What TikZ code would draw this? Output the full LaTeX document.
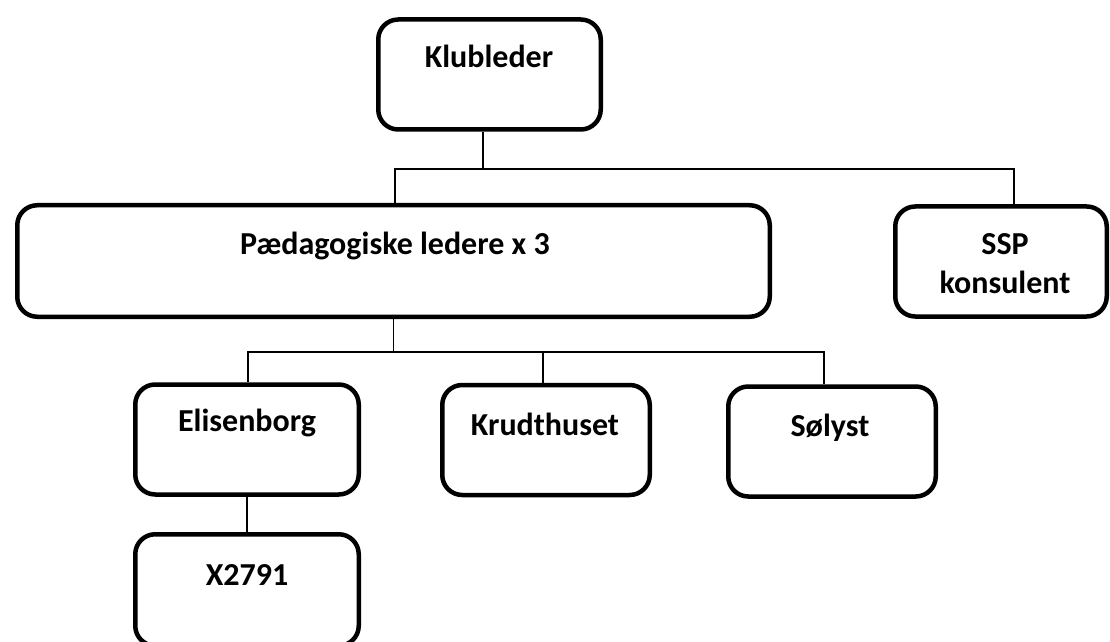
\documentclass[tikz,border=0pt]{standalone}
\usepackage{fontspec}
\setmainfont{Carlito}
\begin{document}
\begin{tikzpicture}[x=0.5pt,y=-0.5pt,
  box/.style={draw,line width=2.25pt,rounded corners=10pt,minimum height=55pt,inner sep=0pt},
  txt/.style={font=\fontsize{16pt}{19.5pt}\selectfont\bfseries,inner sep=0pt},
  link/.style={line width=0.75pt}]
\useasboundingbox (0,0) rectangle (1110,642);
\node[box,minimum width=111.25pt] (klub) at (489.5,74.5) {};
\node[box,minimum width=376.25pt,minimum height=55.75pt] (paed) at (393.5,261) {};
\node[box,minimum width=105.75pt] (ssp) at (1001,261.5) {};
\node[box,minimum width=111.75pt] (elis) at (247,439.5) {};
\node[box,minimum width=103.75pt] (krud) at (546,440) {};
\node[box,minimum width=103.75pt] (soel) at (832,441.5) {};
\node[box,minimum width=111.75pt,minimum height=55.75pt] (x2791) at (247,590) {};
\node[txt,anchor=base] (klubtxt) at (489,68) {Klubleder};
\node[txt,anchor=base] (paedtxt) at (395,255) {Pædagogiske ledere x 3};
\node[txt,align=center] (ssptxt) at (1005,263.5) {SSP\\konsulent};
\node[txt,anchor=base] (elistxt) at (247,431) {Elisenborg};
\node[txt,anchor=base] (krudtxt) at (545,435) {Krudthuset};
\node[txt,anchor=base] (soeltxt) at (830,436) {Sølyst};
\node[txt,anchor=base] (x2791txt) at (247,585) {X2791};
% first level
\coordinate[] (b1) at (483,169);
\coordinate[] (b1l) at (395,169);
\coordinate[] (b1r) at (1014,169);
\draw[link] (klub.south -| b1)--(b1);
\draw[link] (b1l |- paed.north)--(b1l)--(b1r)--(b1r |- ssp.north);
% second level
\coordinate[] (b2l) at (248,352);
\coordinate[] (b2m) at (543,352);
\coordinate[] (b2r) at (824,352);
\draw[link] (paed.south)--(paed.south |- b2l);
\draw[link] (b2l |- elis.north)--(b2l)--(b2r)--(b2r |- soel.north);
\draw[link] (b2m)--(b2m |- krud.north);
\draw[link] (elis.south)--(x2791.north);
\end{tikzpicture}
\end{document}
